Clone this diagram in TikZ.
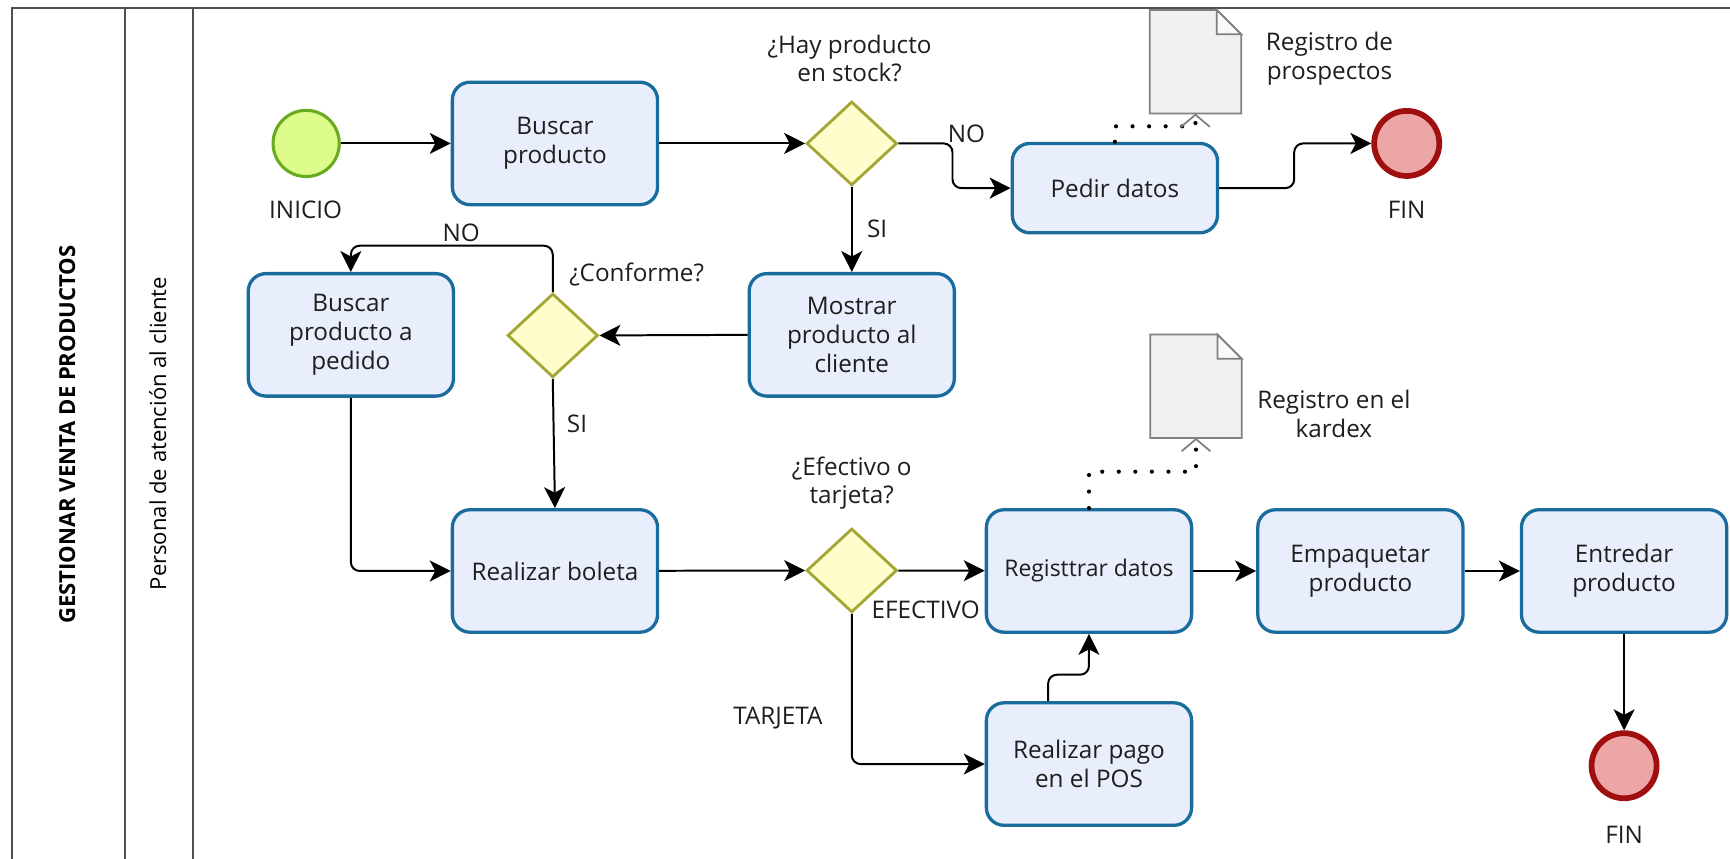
\documentclass[tikz,border=0pt]{standalone}
\usepackage{fontspec}
\setmainfont{Open Sans}
\usetikzlibrary{shapes.geometric,arrows.meta,calc}

\definecolor{taskfill}{HTML}{E9EEFC}
\definecolor{taskdraw}{HTML}{1A6C9C}
\definecolor{gwfill}{HTML}{FEFECC}
\definecolor{gwdraw}{HTML}{A6A637}
\definecolor{startfill}{HTML}{DDFC8C}
\definecolor{startdraw}{HTML}{6AAA1E}
\definecolor{endfill}{HTML}{ECA6A6}
\definecolor{enddraw}{HTML}{A00F0F}
\definecolor{docfill}{HTML}{F0F0F0}
\definecolor{docdraw}{HTML}{808080}
\definecolor{poolline}{HTML}{505050}
\definecolor{txt}{HTML}{1E1E1E}

\begin{document}
\begin{tikzpicture}[x=0.5pt,y=-0.5pt,
  every node/.style={font=\fontsize{11}{13}\selectfont, align=center, inner sep=0pt, text=txt},
  task/.style={draw=taskdraw, fill=taskfill, line width=1.5pt, rounded corners=8pt,
               minimum width=93pt, minimum height=55.5pt},
  gateway/.style={diamond, draw=gwdraw, fill=gwfill, line width=1.3pt,
                  minimum width=41pt, minimum height=38pt},
  startev/.style={circle, draw=startdraw, fill=startfill, line width=1.4pt, minimum size=30pt},
  endev/.style={circle, draw=enddraw, fill=endfill, line width=2.6pt, minimum size=29.5pt},
  docnode/.style={minimum width=41pt, minimum height=46.5pt},
  docline/.style={draw=docdraw, line width=0.8pt, line join=miter},
  flow/.style={line width=0.9pt, rounded corners=4pt,
               -{Stealth[length=9.5pt,width=9.5pt,inset=2.5pt]}},
  assoc/.style={line width=1.9pt, line cap=round, dash pattern=on 0pt off 7.5pt,
                -{Straight Barb[length=5.5pt,width=13pt,color=docdraw,line width=0.8pt]}},
  lanebar/.style={draw=poolline, line width=1pt}
]
\path[use as bounding box] (0,0) rectangle (1568,778);
\clip (0,0) rectangle (1568,778);

% pool and lane frame
\draw[lanebar] (11,800) -- (11,7) -- (1600,7);
\draw[lanebar] (113,7) -- (113,800);
\draw[lanebar] (175,7) -- (175,800);
\node[rotate=90, font=\bfseries\fontsize{10}{13}\selectfont, text=black] (pool) at (61,394) {GESTIONAR VENTA DE PRODUCTOS};
\node[rotate=90, font=\fontsize{10}{13}\selectfont, text=black] (lane) at (143,393) {Personal de atención al cliente};

% events
\node[startev] (start) at (277.5,130) {};
\node (startlbl) at (277,190) {INICIO};
\node[endev] (fin1) at (1275,130) {};
\node (fin1lbl) at (1275,190) {FIN};
\node[endev] (fin2) at (1472,694) {};
\node (fin2lbl) at (1472,757) {FIN};

% tasks
\node[task] (buscar) at (503,130) {Buscar\\producto};
\node[task, minimum height=40.5pt] (pedir) at (1010.5,170.5) {Pedir datos};
\node[task] (mostrar) at (772,303.5) {Mostrar\\producto al\\cliente};
\node[task] (bpedido) at (318,303.5) {Buscar\\producto a\\pedido};
\node[task] (boleta) at (503,517.5) {Realizar boleta};
\node[task, font=\fontsize{10.4}{13}\selectfont] (registrar) at (987,517.5) {Registtrar datos};
\node[task] (empaq) at (1233,517.5) {Empaquetar\\producto};
\node[task] (entredar) at (1472,517.5) {Entredar\\producto};
\node[task] (pago) at (987,692.5) {Realizar pago\\en el POS};

% gateways
\node[gateway] (gw1) at (772,130) {};
\node (gw1lbl) at (770,53) {¿Hay producto\\en stock?};
\node[gateway] (gw2) at (501,304) {};
\node (gw2lbl) at (577,249) {¿Conforme?};
\node[gateway] (gw3) at (772,517) {};
\node (gw3lbl) at (772,438) {¿Efectivo o\\tarjeta?};

% data objects
\node[docnode] (doc1) at (1083.5,56) {};
\node[docnode] (doc2) at (1084,350) {};
\foreach \d in {doc1,doc2} {
  \filldraw[docline, fill=docfill] (\d.south west) -- (\d.north west)
      -- ($(\d.north east)+(-22,0)$) -- ($(\d.north east)+(0,22)$) -- (\d.south east) -- cycle;
  \filldraw[docline, fill=white!60!docfill] ($(\d.north east)+(-22,0)$) -- ($(\d.north east)+(-22,22)$)
      -- ($(\d.north east)+(0,22)$) -- cycle;
}
\node (doc1lbl) at (1205,53) {Registro de\\prospectos};
\node (doc2lbl) at (1209,375) {Registro en el\\kardex};

% sequence flows
\draw[flow] (start) -- (buscar);
\draw[flow] (buscar) -- (gw1);
\draw[flow] (gw1.east) -- ++(49,0) |- (pedir.west);
\draw[flow] (pedir.east) -- ++(68,0) |- (fin1.west);
\draw[flow] (gw1.south) -- (mostrar.north);
\draw[flow] (mostrar.west) -- (gw2.east);
\draw[flow] (gw2.north) -- ++(0,-42) -| (bpedido.north);
\draw[flow] (gw2.south) -- (boleta.north);
\draw[flow] (bpedido.south) |- (boleta.west);
\draw[flow] (boleta) -- (gw3);
\draw[flow] (gw3) -- (registrar);
\draw[flow] (gw3.south) |- (pago.west);
\draw[flow] ($(pago.north)+(-37,0)$) -- ++(0,-24) -| (registrar.south);
\draw[flow] (registrar) -- (empaq);
\draw[flow] (empaq) -- (entredar);
\draw[flow] (entredar) -- (fin2);

% flow labels
\node (no1) at (876,121) {NO};
\node (si1) at (795,207) {SI};
\node (no2) at (418,211) {NO};
\node (si2) at (523,384) {SI};
\node (efec) at (839,553) {EFECTIVO};
\node (tarj) at (705,651) {TARJETA};

% associations to data objects
\draw[assoc] (pedir.north) -- ++(0,-14) -| (doc1.south);
\draw[assoc] (registrar.north) -- ++(0,-33) -| (doc2.south);
\end{tikzpicture}
\end{document}
